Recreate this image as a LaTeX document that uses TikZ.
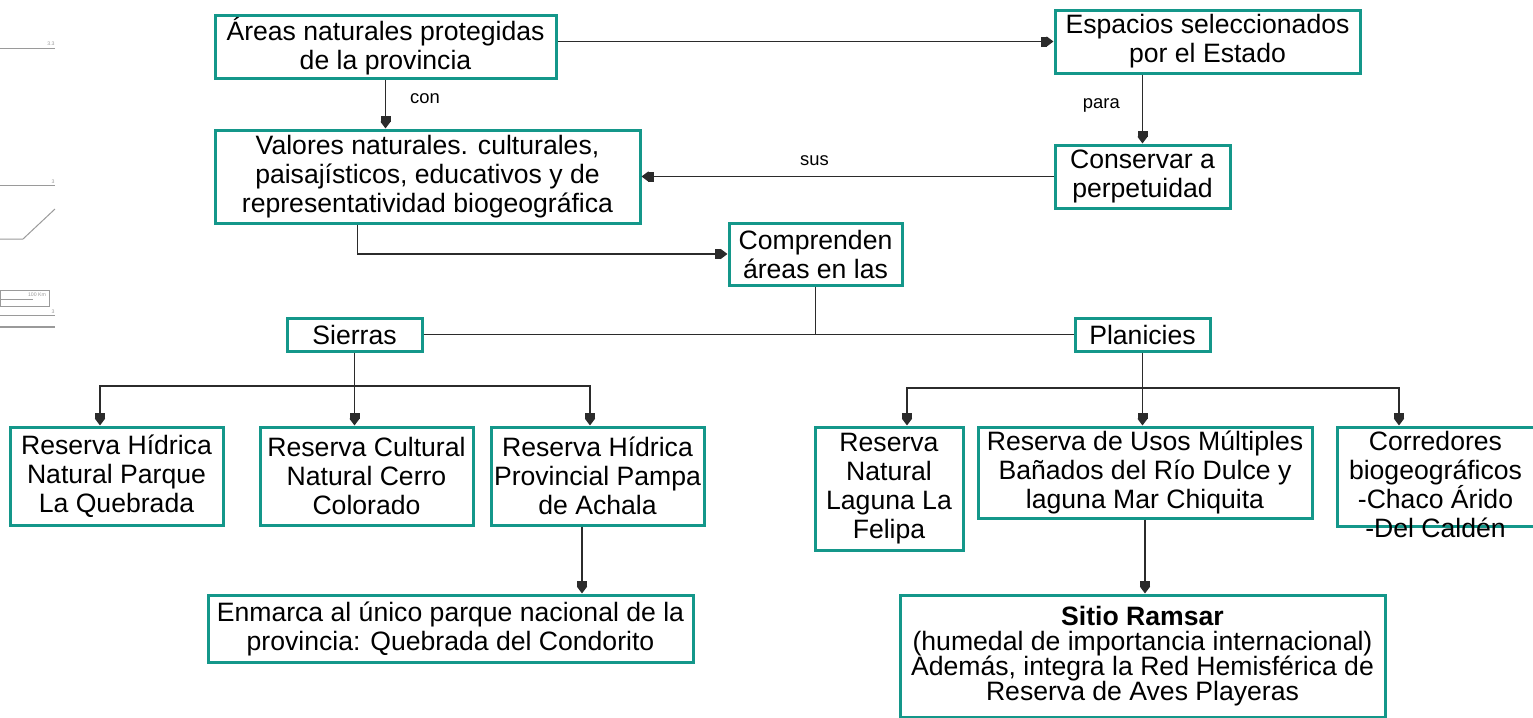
\documentclass[tikz,border=0pt]{standalone}
\usepackage{fontspec}
\setmainfont{Liberation Sans}
\usetikzlibrary{arrows.meta, positioning, calc}
\definecolor{cteal}{HTML}{14978A}
\definecolor{cline}{HTML}{2B2B2B}
\definecolor{cscan}{HTML}{9A9A9A}

\begin{document}
\setlength{\lineskiplimit}{-10pt}
\begin{tikzpicture}[
  x=0.5pt, y=-0.5pt,
  font=\fontsize{13.3}{14.5}\selectfont,
  >={Square[length=3pt,width=5pt,sep=-0.4pt]Triangle[length=3.5pt,width=5pt]},
  box/.style={draw=cteal, line width=1.5pt, fill=white, align=center, inner sep=0pt},
  plain/.style={align=center, inner sep=0pt},
  lbl/.style={font=\fontsize{9.2}{11}\selectfont, inner sep=0pt},
  arr/.style={->, line width=0.7pt, draw=cline},
  link/.style={line width=0.7pt, draw=cline},
  scan/.style={draw=cscan, line width=0.5pt},
  scantxt/.style={text=cscan, inner sep=0pt, font=\fontsize{2.6}{3}\selectfont},
  ]
\useasboundingbox (0,0) rectangle (1533,718);
% ---- scan remnants at the left margin
\draw[scan] (0,48) -- (55,48);
\node[scantxt] (sc1) at (51,44) {3.3};
\draw[scan] (0,185) -- (55,185);
\node[scantxt] (sc2) at (53,182) {3};
\draw[scan] (0,239) -- (23,239) -- (55,209);
\draw[scan] (0,290) rectangle (49,306);
\draw[scan] (0,299) -- (33,299);
\node[scantxt] (sc3) at (37,295) {100 Km};
\draw[scan] (0,315) -- (55,315);
\node[scantxt] (sc4) at (53,312) {3};
\draw[scan, line width=0.9pt] (0,327) -- (55,327);
% ---- row 1
\node[box, minimum width=170.5pt, minimum height=31.5pt] (prot) at (385.5,46.5)
  {Áreas naturales protegidas\\de la provincia};
\node[box, minimum width=152.5pt, minimum height=31.5pt] (esp) at (1207.5,41.5)
  {Espacios seleccionados\\por el Estado};
% ---- row 2
\node[box, minimum width=212.5pt, minimum height=46.5pt] (val) at (427.5,176.5)
  {Valores naturales. culturales,\\paisajísticos, educativos y de\\representatividad biogeográfica};
\node[box, minimum width=87.5pt, minimum height=31.5pt] (cons) at (1142.5,176.5)
  {Conservar a\\perpetuidad};
\node[box, minimum width=86.5pt, minimum height=31pt] (comp) at (815.5,254)
  {Comprenden\\áreas en las};
% ---- row 3: two kinds of areas
\node[box, minimum width=67.5pt, minimum height=16.5pt] (sie) at (354.5,334.5) {Sierras};
\node[box, minimum width=67.5pt, minimum height=16.5pt] (pla) at (1142.5,334.5) {Planicies};
% ---- row 4: reserves
\node[box, minimum width=106.5pt, minimum height=49pt] (quebr) at (116.5,476)
  {Reserva Hídrica\\Natural Parque\\La Quebrada};
\node[box, minimum width=106.5pt, minimum height=49pt] (cerro) at (366.5,476)
  {Reserva Cultural\\Natural Cerro\\Colorado};
\node[box, minimum width=106.5pt, minimum height=49pt] (achala) at (597.5,476)
  {Reserva Hídrica\\Provincial Pampa\\de Achala};
\node[box, minimum width=74pt, minimum height=61.5pt] (felipa) at (889,488.5)
  {Reserva\\Natural\\Laguna La\\Felipa};
\node[box, minimum width=167pt, minimum height=45.5pt] (dulce) at (1145,472.5)
  {Reserva de Usos Múltiples\\Bañados del Río Dulce y\\laguna Mar Chiquita};
\node[box, minimum width=98.5pt, minimum height=49.5pt] (corr) at (1435.5,476.5) {};
\node[plain, below=2.5pt of corr.north] (corrtxt)
  {Corredores\\biogeográficos\\-Chaco Árido\\-Del Caldén};
% ---- row 5
\node[box, minimum width=242.5pt, minimum height=61pt,
      font=\fontsize{13.3}{12.5}\selectfont] (ramsar) at (1142.5,656)
  {\textbf{Sitio Ramsar}\\(humedal de importancia internacional)\\Además, integra la Red Hemisférica de\\Reserva de Aves Playeras};
\node[box, minimum width=242.5pt, minimum height=33.5pt] (condor) at (450.5,628.5)
  {Enmarca al único parque nacional de la\\provincia: Quebrada del Condorito};
% arrows row 1 / row 2
\draw[arr] (esp.west -| prot.east) -- (esp.west);
\draw[arr] (prot.south) -- node[lbl, right=12pt, pos=0.4] {con} (prot.south |- val.north);
\draw[arr] (cons.north |- esp.south) -- node[lbl, left=11pt, pos=0.45] {para} (cons.north);
\draw[arr] (cons.west) -- node[lbl, above=5pt, pos=0.58] {sus} (cons.west -| val.east);
\draw[arr] ($(val.south west)!0.336!(val.south east)$) |- (comp.west);
% split into sierras / planicies
\draw[link] (comp.south) -- (comp.south |- sie.east);
\draw[link] (sie.east) -- (pla.west);
% sierras
\coordinate (sbus) at (sie.south |- 0,386);
\draw[arr] (sie.south) -- (sie.south |- cerro.north);
\draw[arr] (sbus) -| ([xshift=-8.25pt]quebr.north);
\draw[arr] (sbus) -| ([xshift=-3.75pt]achala.north);
% planicies
\coordinate (pbus) at (pla.south |- 0,388);
\draw[arr] (pla.south) -- (pla.south |- dulce.north);
\draw[arr] (pbus) -| ([xshift=9pt]felipa.north);
\draw[arr] (pbus) -| ([xshift=-18.25pt]corr.north);
% lower links
\coordinate (achs) at ([xshift=-7.75pt]achala.south);
\draw[arr] (achs) -- (achs |- condor.north);
\draw[arr] (dulce.south) -- (dulce.south |- ramsar.north);
\end{tikzpicture}
\end{document}
